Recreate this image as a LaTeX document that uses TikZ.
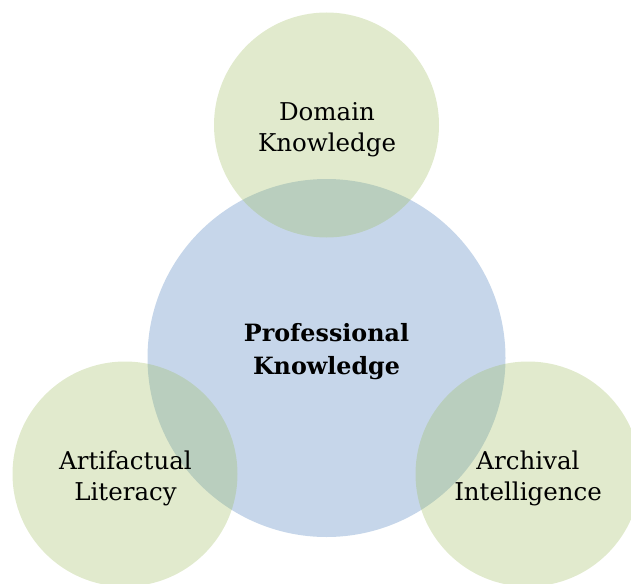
\documentclass[tikz,border=0pt]{standalone}
\usepackage{fontspec}
\setmainfont{DejaVu Serif}
\definecolor{ringgreen}{RGB}{155,187,89}
\definecolor{coreblue}{RGB}{79,129,189}
\tikzset{
  ring/.style={circle, fill=ringgreen, fill opacity=0.3, draw=none, minimum size=225pt, inner sep=0pt},
  core/.style={circle, fill=coreblue, fill opacity=0.32, draw=none, minimum size=358pt, inner sep=0pt},
  lbl/.style={align=center, text=black, inner sep=0pt, font=\fontsize{24.5}{31}\selectfont},
  corelbl/.style={align=center, text=black, inner sep=0pt, font=\fontsize{23.8}{33}\selectfont\bfseries}
}
\begin{document}
\begin{tikzpicture}[x=1pt,y=-1pt]
\useasboundingbox (0,0) rectangle (631,583);
\node[core] (prof) at (326.5,358) {};
\node[ring] (dom) at (326.5,125) {};
\node[ring] (art) at (125,474) {};
\node[ring] (arc) at (528,474) {};
\node[corelbl] (proft) at (326.5,352) {Professional\\Knowledge};
\node[lbl] (domt) at (327,130) {Domain\\Knowledge};
\node[lbl] (artt) at (125.5,478) {Artifactual\\Literacy};
\node[lbl] (arct) at (528,478) {Archival\\Intelligence};
\end{tikzpicture}
\end{document}
